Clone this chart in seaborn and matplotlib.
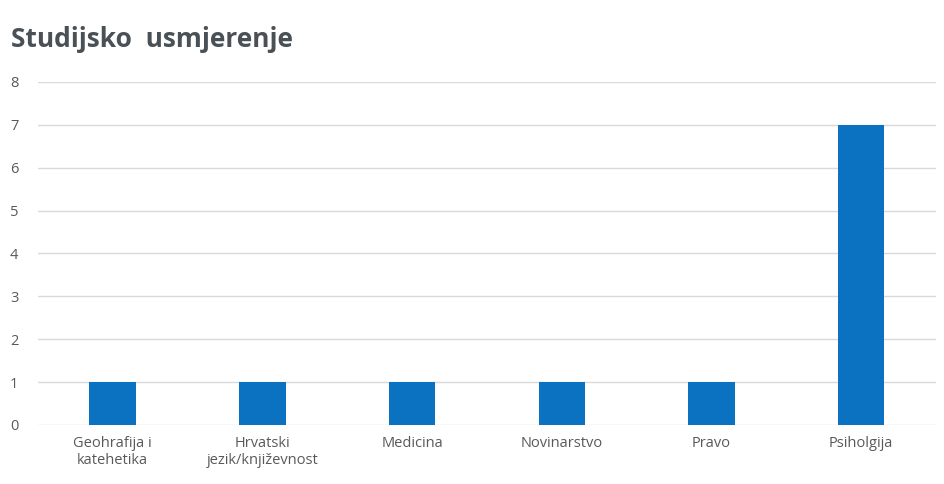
import matplotlib
matplotlib.use("Agg")
import matplotlib.pyplot as plt
import seaborn as sns
import pandas as pd

categories = ["Geohrafija i\nkatehetika", "Hrvatski\njezik/književnost", "Medicina",
              "Novinarstvo", "Pravo", "Psiholgija"]
values = [1, 1, 1, 1, 1, 7]
title = "Studijsko  usmjerenje"

sns.set_theme(style="white")
plt.rcParams['font.family'] = ['Open Sans', 'DejaVu Sans']

df = pd.DataFrame({"cat": categories, "val": values})

fig = plt.figure(figsize=(9.44, 4.84), dpi=100)
ax = fig.add_axes([0.040, 0.122, 0.9515, 0.7086])
sns.barplot(data=df, x="cat", y="val", color="#0B72C2", width=0.31,
            saturation=1, ax=ax, zorder=3, edgecolor="none", linewidth=0)
ax.set_ylim(0, 8)
ax.set_yticks(range(0, 9))
ax.yaxis.grid(True, color="#D9D9D9", linewidth=1, zorder=0)
ax.set_axisbelow(True)
for s in ax.spines.values():
    s.set_visible(False)
ax.set_xlabel("")
ax.set_ylabel("")
ax.tick_params(axis="both", length=0, labelsize=10.5, labelcolor="#595959")
ax.tick_params(axis="y", pad=20)
ax.tick_params(axis="x", pad=8)
for lbl in ax.get_yticklabels():
    lbl.set_horizontalalignment("left")
ax.set_xlim(-0.5, len(categories) - 0.5)
fig.text(0.012, 0.918, title, fontsize=19, fontweight="bold", color="#4A5156",
         ha="left", va="center")
fig.savefig("out.png", dpi=100)
